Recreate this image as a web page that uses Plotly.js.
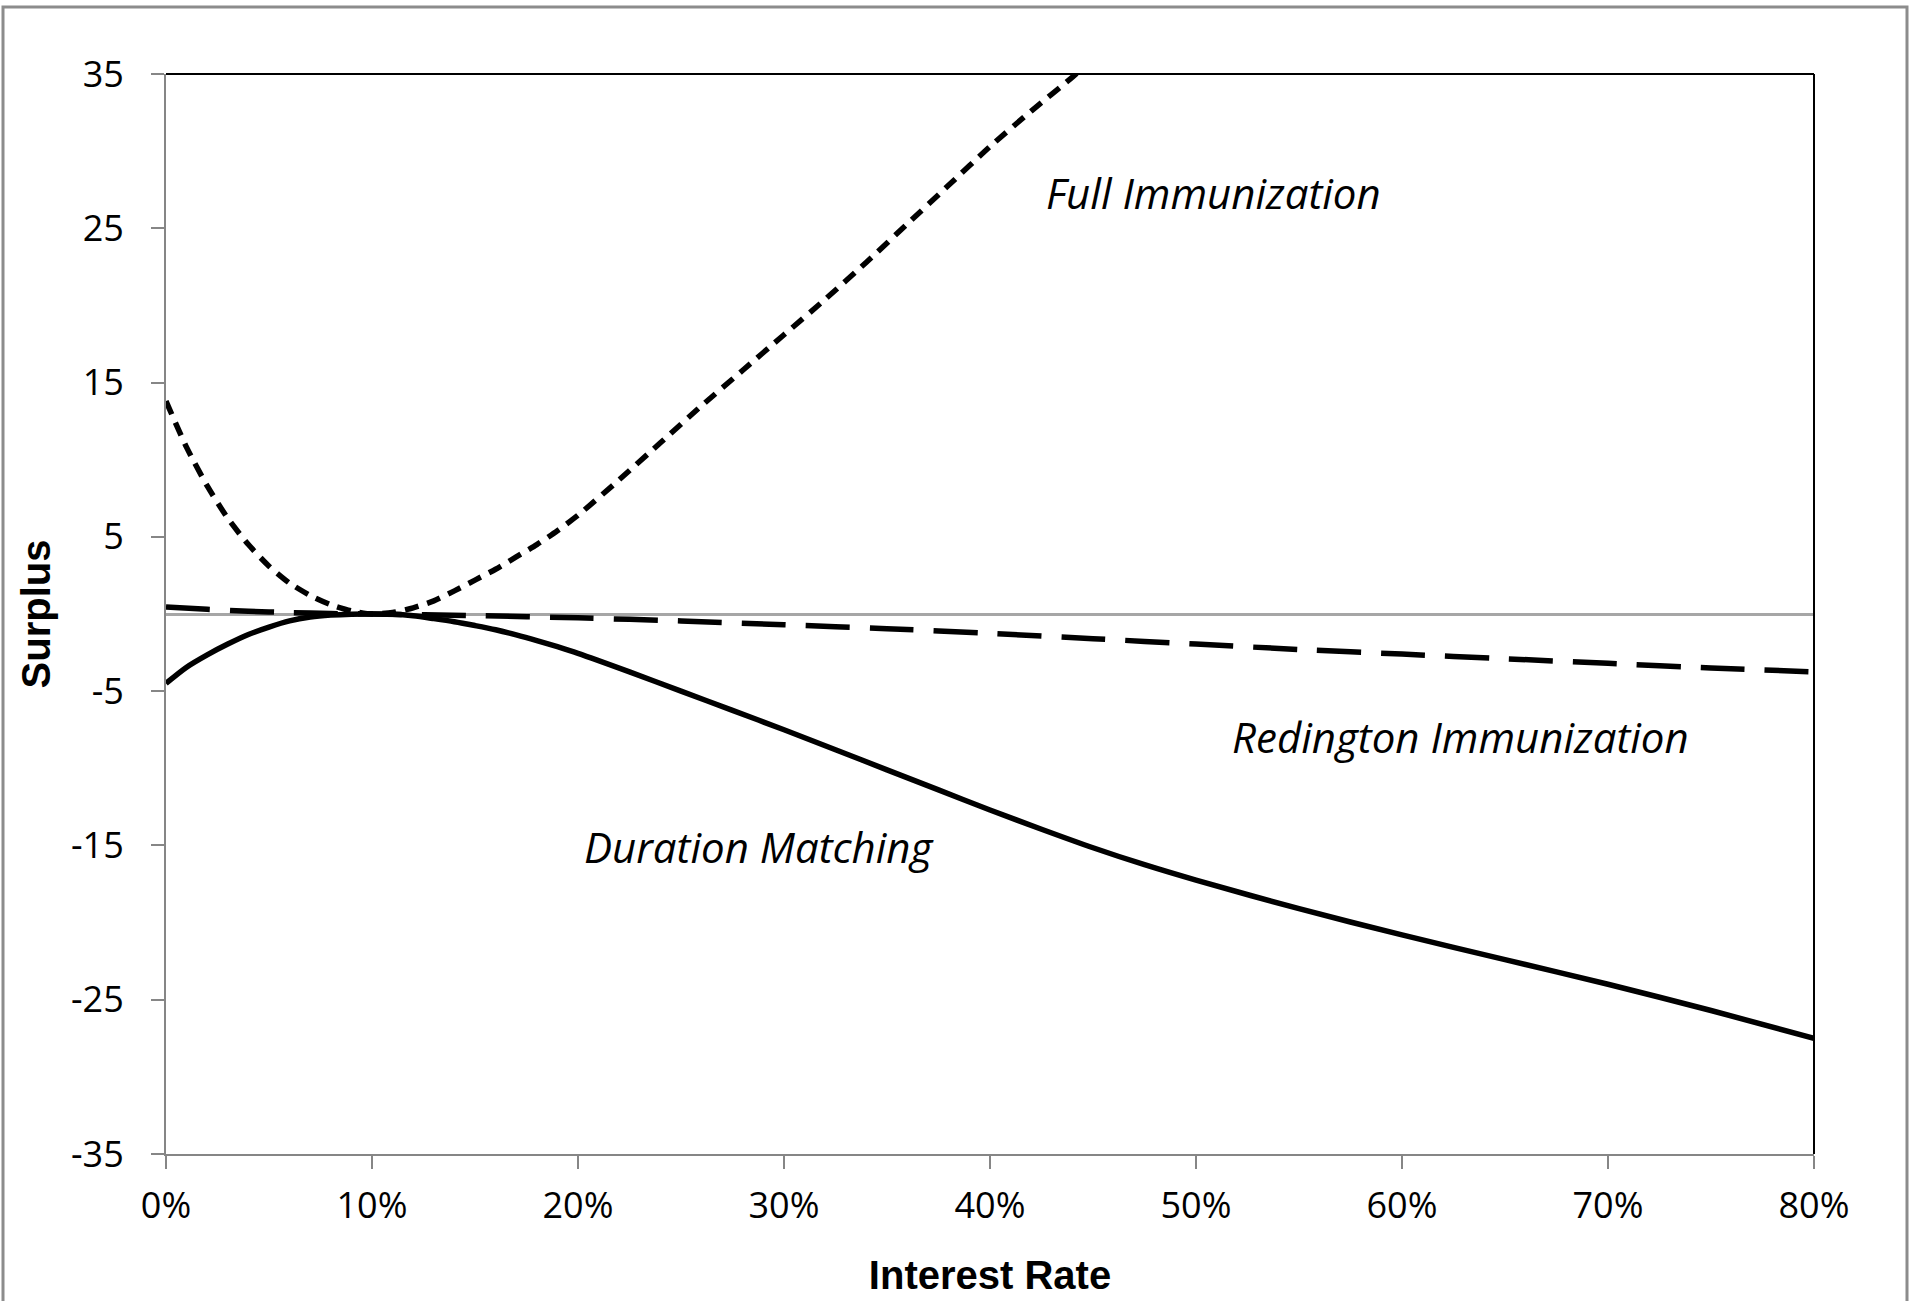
<!DOCTYPE html>
<html>
<head>
<meta charset="utf-8">
<script src="https://cdn.plot.ly/plotly-3.0.1.min.js"></script>
<style>
  html, body { margin: 0; padding: 0; background: #ffffff; }
  #chart { width: 1910px; height: 1301px; }
</style>
</head>
<body>
<div id="chart"></div>
<script>
// ---- data (interest rate in %, surplus) ----
var xFull = [0,1,2,3,4,5,6,7,8,9,10,11,12,13,14,15,16,17,18,19,20,22,24,26,28,30,32,34,36,38,40,42,44,46];
var fullImmunization = [13.8,10.8,8.3,6.2,4.5,3.1,2.0,1.2,0.6,0.2,0,0.1,0.4,0.85,1.5,2.2,2.9,3.7,4.5,5.4,6.4,8.7,11.1,13.5,15.8,18.1,20.4,22.8,25.3,27.8,30.3,32.6,34.8,37.2];

var xDur = [0,1,2,3,4,5,6,7,8,9,10,11,12,13,14,15,16,17,18,19,20,22.5,25,27.5,30,32.5,35,37.5,40,42.5,45,47.5,50,55,60,65,70,75,80];
var durationMatching = [-4.5,-3.45,-2.65,-1.95,-1.33,-0.85,-0.45,-0.2,-0.07,-0.01,0,-0.02,-0.12,-0.3,-0.5,-0.75,-1.02,-1.35,-1.72,-2.12,-2.55,-3.75,-5.0,-6.25,-7.5,-8.8,-10.1,-11.4,-12.7,-13.95,-15.15,-16.25,-17.25,-19.1,-20.8,-22.4,-24.0,-25.7,-27.5];

var xRed = [0,2,4,6,8,10,15,20,25,30,35,40,45,50,55,60,65,70,75,80];
var redington = [0.45,0.3,0.18,0.09,0.03,0,-0.1,-0.25,-0.45,-0.7,-0.95,-1.25,-1.6,-1.95,-2.3,-2.6,-2.9,-3.2,-3.5,-3.75];

var xTicks = [0,10,20,30,40,50,60,70,80];
var xTickLabels = ["0%","10%","20%","30%","40%","50%","60%","70%","80%"];
var yTicks = [-35,-25,-15,-5,5,15,25,35];
var yTickLabels = ["-35","-25","-15","-5","5","15","25","35"];

var labelTexts = ["Full Immunization", "Redington Immunization", "Duration Matching"];
var xTitle = "Interest Rate";
var yTitle = "Surplus";

// ---- traces ----
var traces = [
  { x: xRed, y: redington, type: 'scatter', mode: 'lines', hoverinfo: 'skip',
    line: { color: '#000000', width: 5.5, dash: '44px,20px', shape: 'spline', smoothing: 0.6 } },
  { x: xDur, y: durationMatching, type: 'scatter', mode: 'lines', hoverinfo: 'skip',
    line: { color: '#000000', width: 5.5, shape: 'spline', smoothing: 0.8 } },
  { x: xFull, y: fullImmunization, type: 'scatter', mode: 'lines', hoverinfo: 'skip',
    line: { color: '#000000', width: 5.5, dash: '14px,9px', shape: 'spline', smoothing: 0.6 } }
];

var L = 166, R = 1814, T = 74, B = 1153.6, W = 1910, H = 1301;
var pw = R - L, ph = B - T;
function px(x) { return (x - L) / pw; }
function py(y) { return (B - y) / ph; }

var tickFont = { family: '"Open Sans", sans-serif', size: 36, color: '#000000' };
var titleFont = { family: '"Liberation Sans", Arial, sans-serif', size: 40, color: '#000000', weight: 'bold' };
var noteFont = { family: '"Open Sans", sans-serif', size: 42, style: 'italic', color: '#000000' };

var layout = {
  width: W, height: H,
  margin: { l: L, r: W - R, t: T, b: H - B, pad: 0 },
  paper_bgcolor: '#ffffff', plot_bgcolor: '#ffffff',
  showlegend: false,
  font: { family: '"Open Sans", "Noto Sans", sans-serif', color: '#000000' },
  xaxis: {
    range: [0, 80], tickmode: 'array', tickvals: xTicks, ticktext: xTickLabels,
    showgrid: false, zeroline: false,
    showline: true, linecolor: '#868686', linewidth: 2,
    ticks: 'outside', ticklen: 13, tickwidth: 2, tickcolor: '#868686',
    tickfont: tickFont,
    ticklabelstandoff: 6,
    title: { text: xTitle, font: titleFont, standoff: 33 },
    fixedrange: true
  },
  yaxis: {
    range: [-35, 35], tickmode: 'array', tickvals: yTicks, ticktext: yTickLabels,
    showgrid: false,
    zeroline: true, zerolinecolor: '#a6a6a6', zerolinewidth: 3,
    showline: true, linecolor: '#868686', linewidth: 2,
    ticks: 'outside', ticklen: 13, tickwidth: 2, tickcolor: '#868686',
    tickfont: tickFont,
    ticklabelstandoff: 20,
    title: { text: yTitle, font: titleFont, standoff: 8 },
    fixedrange: true
  },
  shapes: [
    // top and right plot borders (black)
    { type: 'line', xref: 'paper', yref: 'paper', x0: 0, x1: 1, y0: 1, y1: 1, line: { color: '#000000', width: 2 } },
    { type: 'line', xref: 'paper', yref: 'paper', x0: 1, x1: 1, y0: 0, y1: 1, line: { color: '#000000', width: 2 } },
    // outer chart frame
    { type: 'rect', xref: 'paper', yref: 'paper', x0: px(3), x1: px(1907), y0: py(1320), y1: py(7),
      line: { color: '#8c8c8c', width: 3 }, fillcolor: 'rgba(0,0,0,0)', layer: 'below' }
  ],
  annotations: [
    { x: 42.6, y: 27.35, xref: 'x', yref: 'y', xanchor: 'left', yanchor: 'middle', showarrow: false,
      text: labelTexts[0], font: noteFont },
    { x: 51.65, y: -7.95, xref: 'x', yref: 'y', xanchor: 'left', yanchor: 'middle', showarrow: false,
      text: labelTexts[1], font: noteFont },
    { x: 20.2, y: -15.1, xref: 'x', yref: 'y', xanchor: 'left', yanchor: 'middle', showarrow: false,
      text: labelTexts[2], font: noteFont }
  ]
};

Plotly.newPlot('chart', traces, layout, { displayModeBar: false, staticPlot: true });
</script>
</body>
</html>
